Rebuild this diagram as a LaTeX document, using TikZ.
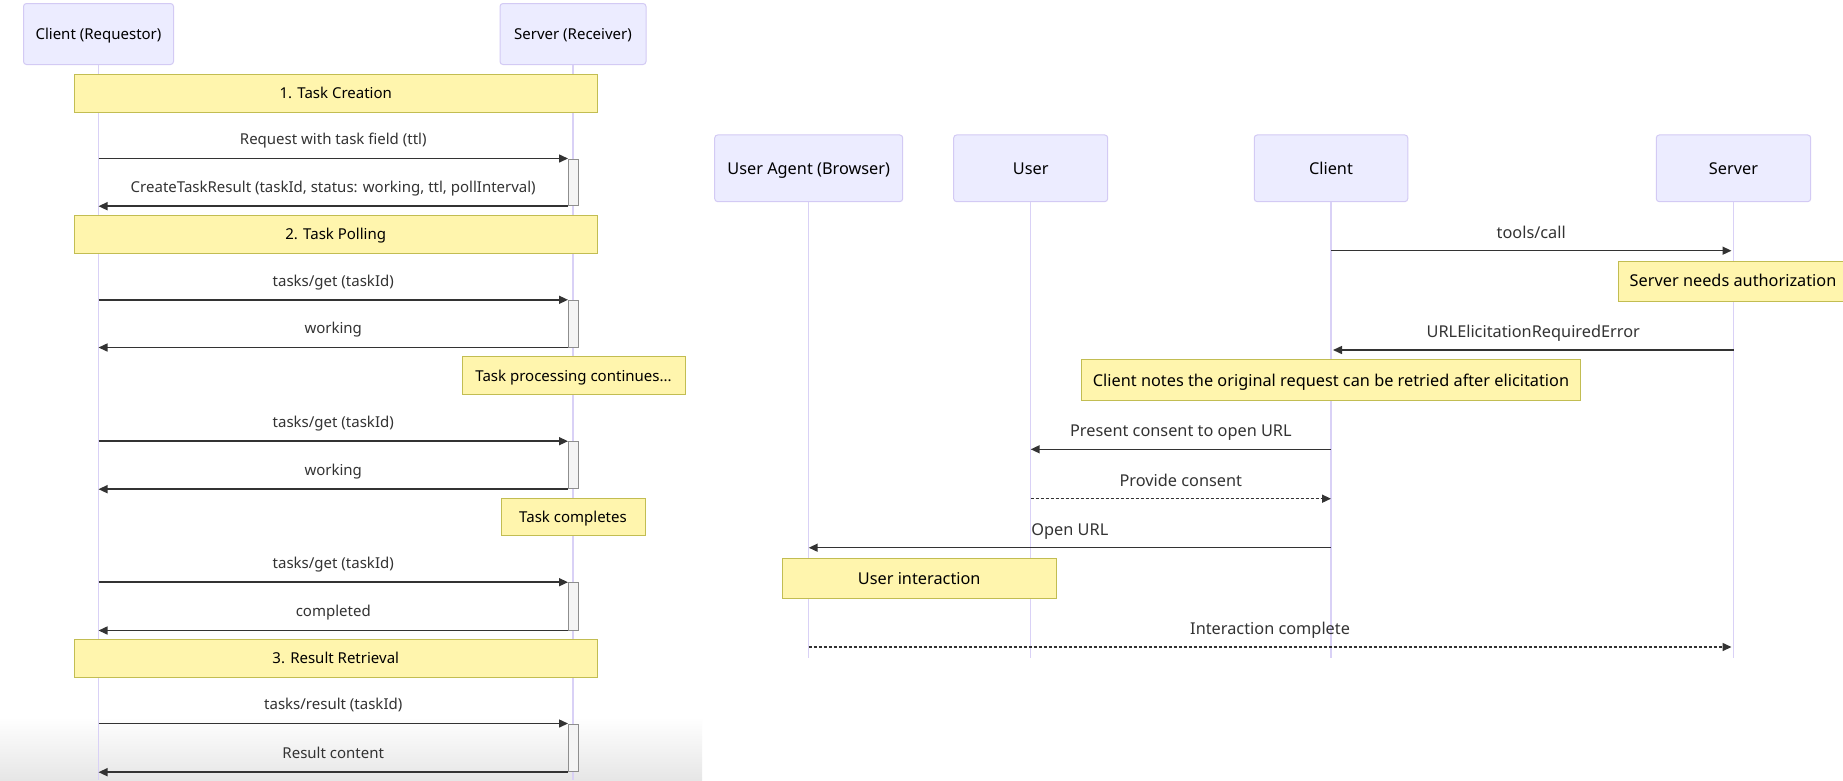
\documentclass[tikz,border=0pt]{standalone}
\usepackage{fontspec}
\setmainfont{Noto Sans}
\usetikzlibrary{arrows.meta}

\definecolor{actfill}{HTML}{ECECFF}
\definecolor{actline}{HTML}{D3CAF4}
\definecolor{lifecol}{HTML}{D9D1F6}
\definecolor{notefill}{HTML}{FFF5AD}
\definecolor{noteline}{HTML}{C2BD52}
\definecolor{msgcol}{HTML}{333333}
\definecolor{barfill}{HTML}{F4F4F4}
\definecolor{barline}{HTML}{8E8E8E}
\definecolor{fadegray}{HTML}{E6E6E6}

\begin{document}
\begin{tikzpicture}[x=1pt,y=-1pt,
  % text boxes are cut to the cap height so that node centres sit mid-caps
  txt/.style={text depth=0pt, inner sep=0pt},
  smallf/.style={font=\fontsize{15}{18}\selectfont, text height=10.71pt},
  bigf/.style={font=\fontsize{16.3}{19}\selectfont, text height=11.64pt},
  actor/.style={txt, draw=actline, fill=actfill, rounded corners=3pt,
    line width=1pt, text=black},
  notebox/.style={txt, draw=noteline, fill=notefill, line width=1pt, text=black},
  life/.style={draw=lifecol, line width=1.3pt},
  bar/.style={draw=barline, fill=barfill, line width=1pt, inner sep=0pt,
    minimum width=10pt},
  msg/.style={draw=msgcol, line width=1.5pt,
    -{Triangle[length=9pt,width=8pt]}},
  dotmsg/.style={msg, dash pattern=on 3pt off 2pt},
  lab/.style={txt, text=msgcol},
]
\useasboundingbox (0,0) rectangle (1843,780);
\fill[white] (0,0) rectangle (1843,780);
\clip (0,0) rectangle (1843,780);

% ---------- task lifecycle ----------
\shade[top color=white, bottom color=fadegray] (0,717) rectangle (702,780);

\begin{scope}[every node/.append style={smallf}]
\node[actor, minimum width=150pt, minimum height=61pt] (cR) at (98.5,34) {Client (Requestor)};
\node[actor, minimum width=146pt, minimum height=61pt] (sR) at (573,34) {Server (Receiver)};
\coordinate (cRb) at (98.5,780);
\coordinate (sRb) at (573,780);
\draw[life] (cR.south) -- (cRb);
\draw[life] (sR.south) -- (sRb);

\node[notebox, minimum width=522.5pt, minimum height=38pt] (ph1) at (335.75,93) {1. Task Creation};
\node[notebox, minimum width=522.5pt, minimum height=38pt] (ph2) at (335.75,234) {2. Task Polling};
\node[notebox, minimum width=522.5pt, minimum height=38pt] (ph3) at (335.75,658) {3. Result Retrieval};
\node[notebox, minimum width=223pt, minimum height=38pt] (nproc) at (573.5,375.7) {Task processing continues...};
\node[notebox, minimum width=144pt, minimum height=37.7pt] (ndone) at (573,517) {Task completes};

\node[bar, minimum height=46.7pt] (act1) at (573.5,182.35) {};
\node[bar, minimum height=46.7pt] (act2) at (573.5,323.65) {};
\node[bar, minimum height=47pt]   (act3) at (573.5,465.2) {};
\node[bar, minimum height=47.3pt] (act4) at (573.5,606.35) {};
\node[bar, minimum height=47.7pt] (act5) at (573.5,747.85) {};

\draw[msg] (cR |- act1.north) -- (act1.north west)
  node[lab, midway, yshift=19pt] {Request with task field (ttl)};
\draw[msg] (act1.south west) -- (cR |- act1.south)
  node[lab, midway, yshift=19pt] {CreateTaskResult (taskId, status: working, ttl, pollInterval)};
\draw[msg] (cR |- act2.north) -- (act2.north west)
  node[lab, midway, yshift=19pt] {tasks/get (taskId)};
\draw[msg] (act2.south west) -- (cR |- act2.south)
  node[lab, midway, yshift=19pt] {working};
\draw[msg] (cR |- act3.north) -- (act3.north west)
  node[lab, midway, yshift=19pt] {tasks/get (taskId)};
\draw[msg] (act3.south west) -- (cR |- act3.south)
  node[lab, midway, yshift=19pt] {working};
\draw[msg] (cR |- act4.north) -- (act4.north west)
  node[lab, midway, yshift=19pt] {tasks/get (taskId)};
\draw[msg] (act4.south west) -- (cR |- act4.south)
  node[lab, midway, yshift=19pt] {completed};
\draw[msg] (cR |- act5.north) -- (act5.north west)
  node[lab, midway, yshift=19pt] {tasks/result (taskId)};
\draw[msg] (act5.south west) -- (cR |- act5.south)
  node[lab, midway, yshift=19pt] {Result content};
\end{scope}

% ---------- URL elicitation ----------
\begin{scope}[every node/.append style={bigf}]
\node[actor, minimum width=188pt, minimum height=66.7pt] (ua) at (808.7,168.3) {User Agent (Browser)};
\node[actor, minimum width=154pt, minimum height=66.7pt] (us) at (1030.7,168.3) {User};
\node[actor, minimum width=153.5pt, minimum height=66.7pt] (cl) at (1331,168.3) {Client};
\node[actor, minimum width=154.4pt, minimum height=66.7pt] (sv) at (1733.5,168.3) {Server};
\coordinate (uab) at (808.7,658);
\coordinate (usb) at (1030.7,658);
\coordinate (clb) at (1331,658);
\coordinate (svb) at (1733.5,658);
\draw[life] (ua.south) -- (uab);
\draw[life] (us.south) -- (usb);
\draw[life] (cl.south) -- (clb);
\draw[life] (sv.south) -- (svb);

\coordinate (r1) at (0,250.7);
\coordinate (r2) at (0,350);
\coordinate (r3) at (0,449.3);
\coordinate (r4) at (0,498.7);
\coordinate (r5) at (0,547.7);
\coordinate (r6) at (0,647);

\draw[msg] (cl |- r1) -- ([xshift=-2pt]sv |- r1)
  node[lab, midway, yshift=18.5pt] {tools/call};
\node[notebox, minimum width=230pt, minimum height=40pt] (nauth) at (1733,281) {Server needs authorization};
\draw[msg] (sv |- r2) -- ([xshift=2pt]cl |- r2)
  node[lab, midway, yshift=18.5pt] {URLElicitationRequiredError};
\node[notebox, minimum width=499pt, minimum height=40.7pt] (nretry) at (1331,380.3) {Client notes the original request can be retried after elicitation};
\draw[msg] (cl |- r3) -- (us |- r3)
  node[lab, midway, yshift=18.5pt] {Present consent to open URL};
\draw[dotmsg] (us |- r4) -- (cl |- r4)
  node[lab, midway, yshift=18.5pt] {Provide consent};
\draw[msg] (cl |- r5) -- (ua |- r5)
  node[lab, midway, yshift=18.5pt] {Open URL};
\node[notebox, minimum width=274.4pt, minimum height=40.3pt] (nui) at (919.2,578.2) {User interaction};
\draw[dotmsg] (ua |- r6) -- ([xshift=-2pt]sv |- r6)
  node[lab, midway, yshift=18.5pt] {Interaction complete};
\end{scope}
\end{tikzpicture}
\end{document}
